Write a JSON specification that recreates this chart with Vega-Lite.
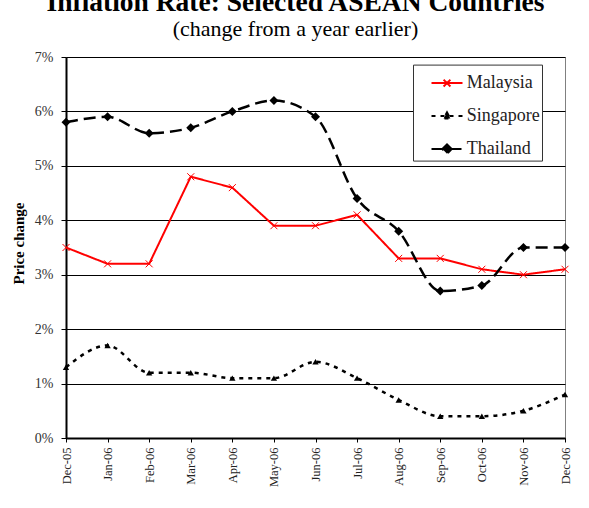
{
  "$schema": "https://vega.github.io/schema/vega-lite/v6.json",
  "width": 499,
  "height": 381,
  "autosize": {"type": "none"},
  "padding": {"left": 66, "top": 57, "right": 24, "bottom": 70},
  "background": "white",
  "title": {
    "text": "Inflation Rate: Selected ASEAN Countries",
    "subtitle": "(change from a year earlier)",
    "font": "Liberation Serif",
    "fontSize": 27.5,
    "fontWeight": "bold",
    "color": "black",
    "subtitleFont": "Liberation Serif",
    "subtitleFontSize": 22,
    "subtitleColor": "black",
    "anchor": "middle",
    "dx": -20,
    "offset": 10,
    "subtitlePadding": 3
  },
  "config": {
    "view": {"stroke": "#808080", "strokeWidth": 1},
    "font": "Liberation Serif",
    "legend": {"labelFont": "Liberation Serif"}
  },
  "data": {
    "values": [
      {"month": "Dec-05", "country": "Malaysia", "value": 3.5},
      {"month": "Jan-06", "country": "Malaysia", "value": 3.2},
      {"month": "Feb-06", "country": "Malaysia", "value": 3.2},
      {"month": "Mar-06", "country": "Malaysia", "value": 4.8},
      {"month": "Apr-06", "country": "Malaysia", "value": 4.6},
      {"month": "May-06", "country": "Malaysia", "value": 3.9},
      {"month": "Jun-06", "country": "Malaysia", "value": 3.9},
      {"month": "Jul-06", "country": "Malaysia", "value": 4.1},
      {"month": "Aug-06", "country": "Malaysia", "value": 3.3},
      {"month": "Sep-06", "country": "Malaysia", "value": 3.3},
      {"month": "Oct-06", "country": "Malaysia", "value": 3.1},
      {"month": "Nov-06", "country": "Malaysia", "value": 3.0},
      {"month": "Dec-06", "country": "Malaysia", "value": 3.1},
      {"month": "Dec-05", "country": "Singapore", "value": 1.3},
      {"month": "Jan-06", "country": "Singapore", "value": 1.7},
      {"month": "Feb-06", "country": "Singapore", "value": 1.2},
      {"month": "Mar-06", "country": "Singapore", "value": 1.2},
      {"month": "Apr-06", "country": "Singapore", "value": 1.1},
      {"month": "May-06", "country": "Singapore", "value": 1.1},
      {"month": "Jun-06", "country": "Singapore", "value": 1.4},
      {"month": "Jul-06", "country": "Singapore", "value": 1.1},
      {"month": "Aug-06", "country": "Singapore", "value": 0.7},
      {"month": "Sep-06", "country": "Singapore", "value": 0.4},
      {"month": "Oct-06", "country": "Singapore", "value": 0.4},
      {"month": "Nov-06", "country": "Singapore", "value": 0.5},
      {"month": "Dec-06", "country": "Singapore", "value": 0.8},
      {"month": "Dec-05", "country": "Thailand", "value": 5.8},
      {"month": "Jan-06", "country": "Thailand", "value": 5.9},
      {"month": "Feb-06", "country": "Thailand", "value": 5.6},
      {"month": "Mar-06", "country": "Thailand", "value": 5.7},
      {"month": "Apr-06", "country": "Thailand", "value": 6.0},
      {"month": "May-06", "country": "Thailand", "value": 6.2},
      {"month": "Jun-06", "country": "Thailand", "value": 5.9},
      {"month": "Jul-06", "country": "Thailand", "value": 4.4},
      {"month": "Aug-06", "country": "Thailand", "value": 3.8},
      {"month": "Sep-06", "country": "Thailand", "value": 2.7},
      {"month": "Oct-06", "country": "Thailand", "value": 2.8},
      {"month": "Nov-06", "country": "Thailand", "value": 3.5},
      {"month": "Dec-06", "country": "Thailand", "value": 3.5}
    ]
  },
  "encoding": {
    "x": {
      "field": "month",
      "type": "ordinal",
      "sort": ["Dec-05", "Jan-06", "Feb-06", "Mar-06", "Apr-06", "May-06", "Jun-06", "Jul-06", "Aug-06", "Sep-06", "Oct-06", "Nov-06", "Dec-06"],
      "scale": {"type": "point", "padding": 0},
      "axis": {
        "title": null,
        "labelAngle": -90,
        "labelFont": "Liberation Serif",
        "labelFontSize": 12.5,
        "labelColor": "#222222",
        "tickSize": 4,
        "tickColor": "black",
        "domainColor": "black",
        "domainWidth": 2,
        "labelPadding": 5,
        "grid": false
      }
    },
    "y": {
      "field": "value",
      "type": "quantitative",
      "scale": {"domain": [0, 7], "nice": false},
      "axis": {
        "title": "Price change",
        "values": [0, 1, 2, 3, 4, 5, 6, 7],
        "labelExpr": "datum.value + '%'",
        "labelFont": "Liberation Serif",
        "labelFontSize": 14,
        "labelColor": "#333333",
        "tickSize": 5,
        "tickColor": "black",
        "labelPadding": 8,
        "domainColor": "black",
        "domainWidth": 2,
        "grid": true,
        "gridColor": "black",
        "gridWidth": 1,
        "gridOpacity": 1,
        "titleFont": "Liberation Serif",
        "titleFontSize": 15,
        "titleFontWeight": "bold",
        "titleColor": "black",
        "titleX": -48,
        "titleY": 186,
        "titleAngle": -90,
        "titleAlign": "center",
        "titleBaseline": "middle"
      }
    }
  },
  "layer": [
    {
      "transform": [{"filter": "datum.country === 'Malaysia'"}],
      "mark": {"type": "line", "strokeWidth": 2, "interpolate": "linear"},
      "encoding": {
        "color": {
          "field": "country",
          "type": "nominal",
          "scale": {"domain": ["Malaysia", "Singapore", "Thailand"], "range": ["#ff0000", "#000000", "#000000"]},
          "legend": {
            "title": null,
            "orient": "none",
            "legendX": 347,
            "legendY": 7.6,
            "fillColor": "white",
            "strokeColor": "#333333",
            "padding": 2,
            "symbolSize": 961,
            "symbolStrokeWidth": 2,
            "symbolOffset": 15.5,
            "labelOffset": 3.3,
            "labelFont": "Liberation Serif",
            "labelFontSize": 18,
            "labelColor": "#222222",
            "rowPadding": 7,
            "labelExpr": "datum.label + '\u00a0\u00a0\u00a0\u00a0\u00a0'",
            "encode": {
              "labels": {
                "update": {
                  "font": {"value": "Liberation Serif"},
                  "fontSize": {"value": 18}
                }
              },
              "symbols": {
                "update": {
                  "shape": {"signal": "datum.value === 'Malaysia' ? 'M-1,0L1,0M-0.22,-0.22L0.22,0.22M-0.22,0.22L0.22,-0.22' : datum.value === 'Singapore' ? 'M-1,0L1,0M0,-0.24L0.22,0.16L-0.22,0.16Z' : 'M-1,0L1,0M0,-0.3L0.3,0L0,0.3L-0.3,0Z'"},
                  "fill": {"signal": "datum.value === 'Malaysia' ? 'transparent' : 'black'"},
                  "stroke": {"signal": "datum.value === 'Malaysia' ? '#ff0000' : 'black'"},
                  "size": {"value": 961},
                  "strokeWidth": {"value": 2},
                  "opacity": {"value": 1}
                }
              }
            }
          }
        },
        "strokeDash": {
          "field": "country",
          "type": "nominal",
          "scale": {"domain": ["Malaysia", "Singapore", "Thailand"], "range": [[1, 0], [4, 5], [12, 6]]}
        }
      }
    },
    {
      "transform": [{"filter": "datum.country !== 'Malaysia'"}],
      "mark": {"type": "line", "strokeWidth": 2.5, "interpolate": "monotone"},
      "encoding": {
        "color": {"field": "country", "type": "nominal"},
        "strokeDash": {"field": "country", "type": "nominal"}
      }
    },
    {
      "transform": [{"filter": "datum.country === 'Malaysia'"}],
      "mark": {"type": "point", "shape": "M-1,-1L1,1M-1,1L1,-1", "size": 49, "filled": false, "stroke": "#ff0000", "strokeWidth": 1, "opacity": 1}
    },
    {
      "transform": [{"filter": "datum.country === 'Singapore'"}],
      "mark": {"type": "point", "shape": "triangle-up", "size": 40, "filled": true, "fill": "#000000", "opacity": 1}
    },
    {
      "transform": [{"filter": "datum.country === 'Thailand'"}],
      "mark": {"type": "point", "shape": "diamond", "size": 81, "filled": true, "fill": "#000000", "opacity": 1}
    }
  ]
}
